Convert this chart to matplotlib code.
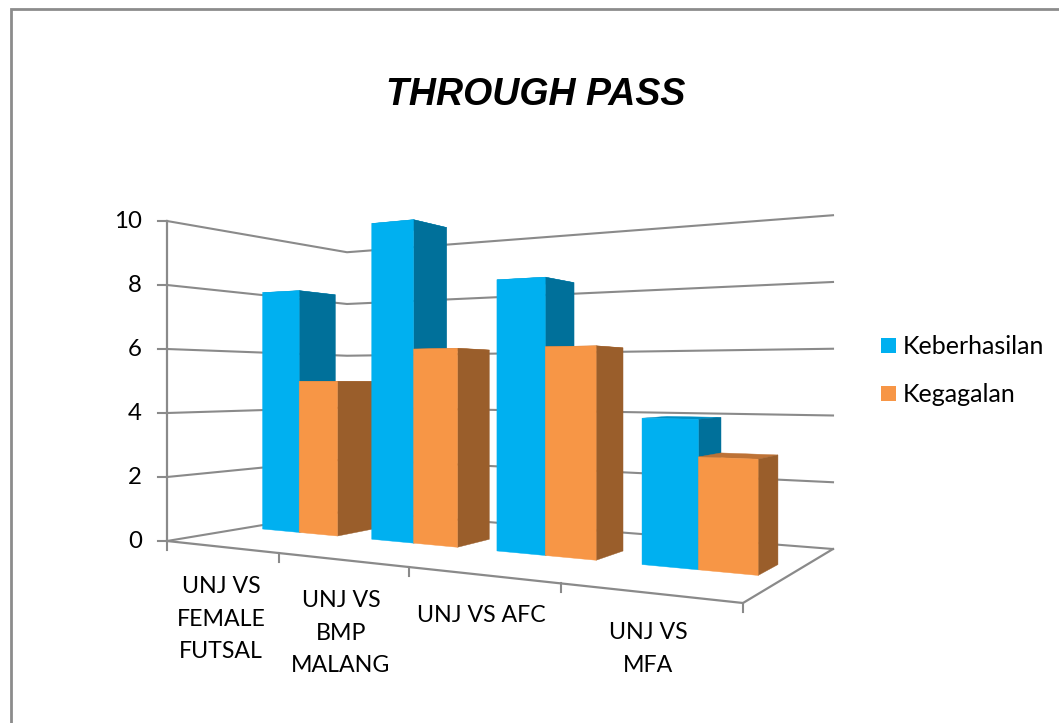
"""
THROUGH PASS: Excel-style 3D column chart, drawn in 2D with a perspective projection.
"""
import numpy as np
import matplotlib
matplotlib.use("Agg")
import matplotlib.pyplot as plt
from matplotlib.patches import Polygon, Rectangle

categories = ["UNJ VS\nFEMALE\nFUTSAL", "UNJ VS\nBMP\nMALANG", "UNJ VS AFC", "UNJ VS\nMFA"]
keberhasilan = [8, 10, 8, 4]
kegagalan = [5, 6, 6, 3]
y_ticks = [0, 2, 4, 6, 8, 10]
series_names = ["Keberhasilan", "Kegagalan"]

# warna: depan, samping, atas
BLUE = ("#00B0F0", "#00709A", "#008FC4")
ORANGE = ("#F79646", "#9A5E2B", "#BD7236")
GRID = "#8A8A8A"
LABEL_FONT = ["Lato", "DejaVu Sans"]
LABEL_SIZE = 16.7
LEGEND_SIZE = 18

# sudut lantai dalam piksel: depan-kiri, depan-kanan, belakang-kanan, belakang-kiri
A, B, C, D = (167, 541), (743, 603), (833, 549), (347, 511)
UNIT = 32.0  # piksel per satuan nilai pada sudut depan-kiri
V_FRONT, V_BACK = 0.395, 0.605  # kedalaman batang
BAR_PAD = 0.15  # jarak tepi kategori ke batang


def make_projection():
    sx = A[0] - B[0] + C[0] - D[0]
    sy = A[1] - B[1] + C[1] - D[1]
    dx1, dy1 = B[0] - C[0], B[1] - C[1]
    dx2, dy2 = D[0] - C[0], D[1] - C[1]
    det = dx1 * dy2 - dx2 * dy1
    g = (sx * dy2 - dx2 * sy) / det
    h = (dx1 * sy - sx * dy1) / det
    a, b = B[0] * (1 + g) - A[0], D[0] * (1 + h) - A[0]
    d, e = B[1] * (1 + g) - A[1], D[1] * (1 + h) - A[1]

    def project(u, v, z=0.0):
        w = 1 + g * u + h * v
        return (a * u + b * v + A[0]) / w, (d * u + e * v + A[1] - UNIT * z) / w

    return project


project = make_projection()


def draw_bar(ax, u0, u1, value, colors):
    front, side, top = colors
    faces = [
        (top, [(u0, V_FRONT, value), (u1, V_FRONT, value), (u1, V_BACK, value), (u0, V_BACK, value)]),
        (side, [(u1, V_FRONT, 0), (u1, V_BACK, 0), (u1, V_BACK, value), (u1, V_FRONT, value)]),
        (front, [(u0, V_FRONT, 0), (u1, V_FRONT, 0), (u1, V_FRONT, value), (u0, V_FRONT, value)]),
    ]
    for color, pts in faces:
        xy = [project(*p) for p in pts]
        ax.add_patch(Polygon(xy, closed=True, facecolor=color, edgecolor=color,
                             linewidth=0.3, zorder=3))


fig = plt.figure(figsize=(10.59, 7.23), dpi=100)
ax = fig.add_axes([0, 0, 1, 1])
ax.set_xlim(0, 1059)
ax.set_ylim(723, 0)
ax.axis("off")

# bingkai luar
ax.plot([11, 11, 1059], [723, 9, 9], color="#8C8C8C", lw=2, solid_joinstyle="miter")

# garis kisi dinding kiri dan belakang
top_val = y_ticks[-1]
for val in y_ticks:
    pts = [project(0, 0, val), project(0, 1, val), project(1, 1, val)]
    ax.plot(*zip(*pts), color=GRID, lw=1.5, solid_joinstyle="miter", zorder=1)
    x0, y0 = project(0, 0, val)
    ax.plot([x0 - 9, x0], [y0, y0], color=GRID, lw=1.5, zorder=1)
    ax.text(x0 - 25, y0 + 1, str(val), ha="right", va="center", color="black",
            family=LABEL_FONT, fontsize=17.3)
ax.plot(*zip(project(0, 0, 0), project(0, 0, top_val)), color=GRID, lw=1.6, zorder=1)

# tepi lantai dan tanda kategori
n = len(categories)
ax.plot(*zip(project(0, 0), project(1, 0), project(1, 1)), color=GRID, lw=1.6,
        solid_joinstyle="miter", zorder=1)
for i in range(n + 1):
    x, y = project(i / n, 0)
    ax.plot([x, x], [y, y + 9], color=GRID, lw=1.5, zorder=1)

# batang
for i in range(n):
    u0 = (i + BAR_PAD) / n
    um = (i + 0.5) / n
    u1 = (i + 1 - BAR_PAD) / n
    draw_bar(ax, u0, um, keberhasilan[i], BLUE)
    draw_bar(ax, um, u1, kegagalan[i], ORANGE)

# label kategori
label_pos = [(221, 619), (341, 633), (481, 616), (648, 649)]
for name, (x, y) in zip(categories, label_pos):
    ax.text(x, y, name, ha="center", va="center", multialignment="center", color="black",
            family=LABEL_FONT, fontsize=LABEL_SIZE, linespacing=1.65)

# judul
ax.text(535.5, 95, "THROUGH PASS", ha="center", va="center", color="black",
        family="Liberation Sans", fontsize=27, fontweight="bold", fontstyle="italic")

# legenda
for name, colors, y in zip(series_names, (BLUE, ORANGE), (345.5, 393.5)):
    ax.add_patch(Rectangle((881, y - 7.5), 15, 15, facecolor=colors[0], edgecolor="none"))
    ax.text(903, y + 1, name, ha="left", va="center", color="black",
            family=LABEL_FONT, fontsize=LEGEND_SIZE)

fig.savefig("out.png", dpi=100)
